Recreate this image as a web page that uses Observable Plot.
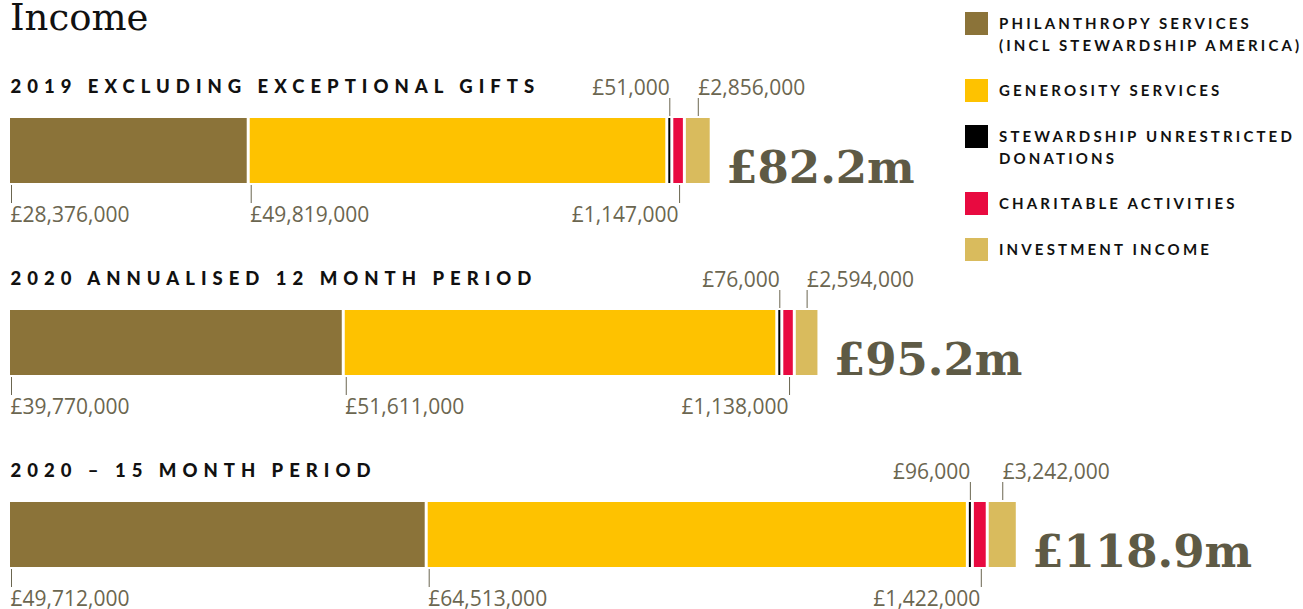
<!DOCTYPE html>
<html>
<head>
<meta charset="utf-8">
<script src="https://cdn.jsdelivr.net/npm/d3@7"></script>
<script src="https://cdn.jsdelivr.net/npm/@observablehq/plot@0.6"></script>
<style>
  html, body { margin: 0; padding: 0; background: #fff; }
  #wrap { position: relative; width: 1303px; height: 609px; }
  #title { position: absolute; left: 10px; top: 0px; font-family: "DejaVu Serif", serif; font-size: 37px; line-height: 36px; color: #111; z-index: 2; }
  #legend { position: absolute; left: 965px; top: 12px; z-index: 2; font-family: Lato, "Open Sans", sans-serif; font-weight: 700; font-size: 15px; line-height: 22px; letter-spacing: 3.15px; color: #111; }
  .item { display: flex; align-items: flex-start; margin-bottom: 23px; }
  .sw { width: 23px; height: 23px; flex: none; margin-right: 11px; }
  #chart { position: absolute; left: 0; top: 0; z-index: 1; }
</style>
</head>
<body>
<div id="wrap">
  <div id="title"></div>
  <div id="legend"></div>
  <div id="chart"></div>
</div>
<script>
// ---- data ----
const title = "Income";
const periods = ["2019 EXCLUDING EXCEPTIONAL GIFTS", "2020 ANNUALISED 12 MONTH PERIOD", "2020 – 15 MONTH PERIOD"];
const categories = ["Philanthropy services", "Generosity services", "Stewardship unrestricted donations", "Charitable activities", "Investment income"];
const legendLabels = [["PHILANTHROPY SERVICES", "(INCL STEWARDSHIP AMERICA)"], ["GENEROSITY SERVICES"], ["STEWARDSHIP UNRESTRICTED", "DONATIONS"], ["CHARITABLE ACTIVITIES"], ["INVESTMENT INCOME"]];
const philanthropy = [28376000, 39770000, 49712000];
const generosity   = [49819000, 51611000, 64513000];
const stewardship  = [51000, 76000, 96000];
const charitable   = [1147000, 1138000, 1422000];
const investment   = [2856000, 2594000, 3242000];
const totals = ["£82.2m", "£95.2m", "£118.9m"];
const colors = ["#8b7339", "#fec200", "#000000", "#e80a40", "#d9bb5d"];

// label placement per category: side of bar, where the tick sits, text anchor
const placement = [
  {side: "bottom", at: "start", anchor: "start"},
  {side: "bottom", at: "start", anchor: "start"},
  {side: "top", at: "mid", anchor: "end"},
  {side: "bottom", at: "mid", anchor: "end"},
  {side: "top", at: "mid", anchor: "start"}
];

const series = [philanthropy, generosity, stewardship, charitable, investment];
const GAP = 0.36;   // white gap between segments, £m
const MINW = 0.24;  // minimal visible width, £m

const segs = [];
const ends = [];
periods.forEach((p, i) => {
  let cur = 0;
  categories.forEach((c, j) => {
    const v = series[j][i] / 1e6;
    const w = Math.max(v, MINW);
    const x1 = cur, x2 = cur + w;
    const pl = placement[j];
    segs.push({period: p, category: c, value: series[j][i], x1, x2,
      xt: pl.at === "start" ? x1 : (x1 + x2) / 2, side: pl.side, anchor: pl.anchor});
    cur = x2 + GAP;
  });
  ends.push({period: p, x: cur - GAP, total: totals[i]});
});

const fmt = v => "£" + d3.format(",")(v);
const labelColor = "#6b6650";
const labelFont = "'Open Sans', sans-serif";

document.getElementById("title").textContent = title;
const leg = document.getElementById("legend");
legendLabels.forEach((lines, j) => {
  const it = document.createElement("div");
  it.className = "item";
  const sw = document.createElement("div");
  sw.className = "sw";
  sw.style.background = colors[j];
  const tx = document.createElement("div");
  tx.innerHTML = lines.join("<br>");
  it.appendChild(sw); it.appendChild(tx);
  leg.appendChild(it);
});

const topSegs = segs.filter(d => d.side === "top");
const bottomSegs = segs.filter(d => d.side === "bottom");
const textOpts = {fontFamily: labelFont, fontSize: 21, fill: labelColor};

const chart = Plot.plot({
  width: 1303,
  height: 609,
  marginLeft: 10, marginRight: 0, marginTop: 0, marginBottom: 0,
  style: {background: "transparent", overflow: "visible"},
  x: {domain: [0, 155], axis: null},
  y: {type: "band", domain: periods, range: [117, 567], paddingInner: 0.662, paddingOuter: 0, axis: null},
  color: {domain: categories, range: colors},
  marks: [
    Plot.barX(segs, {x1: "x1", x2: "x2", y: "period", fill: "category"}),
    Plot.text(periods, {x: 0, y: d => d, text: d => d, textAnchor: "start", lineAnchor: "bottom", dy: -58,
      fontFamily: "Lato, sans-serif", fontWeight: 900, fontSize: 18.5, fill: "#111"}),
    Plot.tickX(topSegs, {x: "xt", y: "period", stroke: labelColor, strokeWidth: 1, dy: -20, insetBottom: 47}),
    Plot.tickX(bottomSegs, {x: "xt", y: "period", stroke: labelColor, strokeWidth: 1, dx: 1, dy: 20, insetTop: 47}),
    Plot.text(topSegs.filter(d => d.anchor === "start"), {x: "xt", y: "period", text: d => fmt(d.value), lineAnchor: "bottom", dy: -56.5, ...textOpts, textAnchor: "start"}),
    Plot.text(topSegs.filter(d => d.anchor === "end"), {x: "xt", y: "period", text: d => fmt(d.value), lineAnchor: "bottom", dy: -56.5, ...textOpts, textAnchor: "end"}),
    Plot.text(bottomSegs.filter(d => d.anchor === "start"), {x: "xt", y: "period", text: d => fmt(d.value), lineAnchor: "bottom", dy: 70.5, ...textOpts, textAnchor: "start"}),
    Plot.text(bottomSegs.filter(d => d.anchor === "end"), {x: "xt", y: "period", text: d => fmt(d.value), lineAnchor: "bottom", dy: 70.5, ...textOpts, textAnchor: "end"}),
    Plot.text(ends, {x: "x", y: "period", text: "total", textAnchor: "start", lineAnchor: "bottom", dx: 16, dy: 32,
      fontFamily: "'DejaVu Serif', serif", fontWeight: 700, fontSize: 45, fill: "#5e5a45"})
  ]
});
// widen the tracking of the section headings
d3.select(chart).selectAll("text")
  .filter(function () { return periods.includes(this.textContent); })
  .style("letter-spacing", "6px");
document.getElementById("chart").appendChild(chart);
</script>
</body>
</html>
